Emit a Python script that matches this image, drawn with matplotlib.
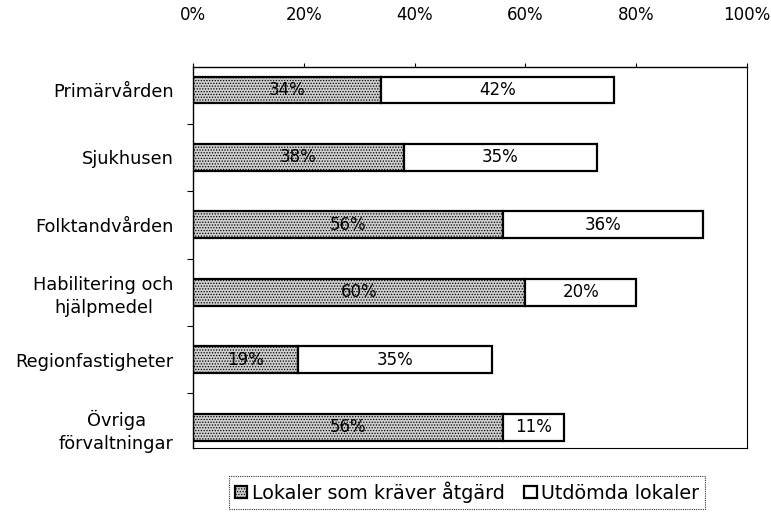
import numpy as np
import matplotlib
matplotlib.use("Agg")
import matplotlib.pyplot as plt
from matplotlib.patches import Patch

plt.rcParams['font.family'] = ['DejaVu Sans']
plt.rcParams['hatch.color'] = '#6e6e6e'
plt.rcParams['hatch.linewidth'] = 0.6

# Data
categories = ['Primärvården', 'Sjukhusen', 'Folktandvården',
              'Habilitering och\nhjälpmedel', 'Regionfastigheter',
              'Övriga\nförvaltningar']
atgard = [34, 38, 56, 60, 19, 56]      # Lokaler som kräver åtgärd
utdomda = [42, 35, 36, 20, 35, 11]     # Utdömda lokaler
xticks = [0, 20, 40, 60, 80, 100]
series_names = ['Lokaler som kräver åtgärd', 'Utdömda lokaler']

fig = plt.figure(figsize=(7.71, 5.12), dpi=100)
ax = fig.add_axes([0.2503, 0.125, 0.7187, 0.744])

y = np.arange(len(categories))
h = 0.4
ax.barh(y, atgard, height=h, color='#cfcfcf', hatch='......',
        edgecolor='black', linewidth=1.6)
ax.barh(y, utdomda, left=atgard, height=h, color='white',
        edgecolor='black', linewidth=1.6)

for i in range(len(categories)):
    ax.text(atgard[i] / 2, y[i], f'{atgard[i]}%', ha='center', va='center',
            fontsize=12)
    ax.text(atgard[i] + utdomda[i] / 2, y[i], f'{utdomda[i]}%', ha='center',
            va='center', fontsize=12)

ax.set_xlim(0, 100)
ax.set_ylim(len(categories) - 1 + 0.31, -0.34)
ax.xaxis.tick_top()
ax.set_xticks(xticks)
ax.set_xticklabels([f'{v}%' for v in xticks], fontsize=12)
ax.tick_params(axis='x', length=3, width=0.8, pad=28)

ax.set_yticks(y)
ax.set_yticklabels(categories, fontsize=12.8, ha='right', multialignment='center',
                   linespacing=1.35)
ax.tick_params(axis='y', length=0, pad=14)
ax.set_yticks(np.arange(len(categories) - 1) + 0.5, minor=True)
ax.tick_params(axis='y', which='minor', length=4, width=0.8)

ax.spines['top'].set_linewidth(1.0)
ax.spines['left'].set_linewidth(1.0)
ax.spines['left'].set_linestyle((0, (2, 1)))
for s in ['right', 'bottom']:
    ax.spines[s].set_linewidth(0.8)
    ax.spines[s].set_linestyle((0, (1, 1)))

handles = [Patch(facecolor='#cfcfcf', hatch='......', edgecolor='black', linewidth=1.6),
           Patch(facecolor='white', edgecolor='black', linewidth=1.6)]
leg = fig.legend(handles, series_names, loc='center', bbox_to_anchor=(0.606, 0.039),
                 ncol=2, fontsize=13.8, frameon=True, fancybox=False,
                 handlelength=0.65, handleheight=0.65, handletextpad=0.25,
                 columnspacing=1.0, borderpad=0.3, borderaxespad=0)
leg.get_frame().set_edgecolor('black')
leg.get_frame().set_linewidth(0.8)
leg.get_frame().set_linestyle((0, (1, 1)))

fig.savefig('out.png', dpi=100)
